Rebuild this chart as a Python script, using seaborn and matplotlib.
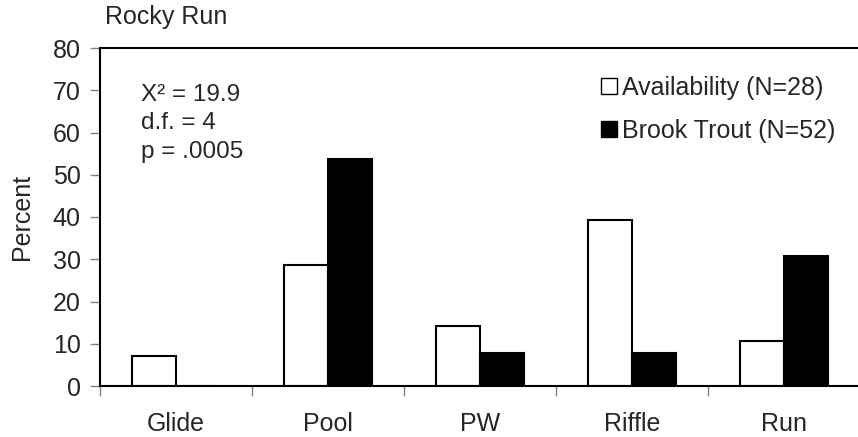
import matplotlib
matplotlib.use("Agg")
import matplotlib.pyplot as plt
from matplotlib.patches import Patch
import seaborn as sns
import pandas as pd

habitats = ["Glide", "Pool", "PW", "Riffle", "Run"]
availability = [7.1, 28.6, 14.3, 39.3, 10.7]
brook_trout = [0.0, 53.8, 7.7, 7.7, 30.8]
series_names = ["Availability (N=28)", "Brook Trout (N=52)"]

df = pd.DataFrame({
    "habitat": habitats * 2,
    "percent": availability + brook_trout,
    "series": [series_names[0]] * 5 + [series_names[1]] * 5,
})

sns.set_style("white")
plt.rcParams["font.family"] = ["Liberation Sans", "DejaVu Sans"]

fig = plt.figure(figsize=(8.58, 4.37), dpi=100)
ax = fig.add_axes([100 / 858, 51 / 437, 760 / 858, 338 / 437])

sns.barplot(data=df, x="habitat", y="percent", hue="series", order=habitats,
            hue_order=series_names, palette=["white", "black"], width=0.58,
            edgecolor="black", linewidth=1.5, ax=ax, legend=False)

ax.set_xlim(-0.5, 4.5)
ax.set_ylim(0, 80)
ax.set_yticks(range(0, 81, 10))
ax.set_xticks([i - 0.5 for i in range(6)], minor=False)
ax.set_xticklabels([])
ax.set_xticks(range(5), minor=True)
ax.set_xticklabels(habitats, minor=True)
ax.tick_params(axis="x", which="major", length=7, width=1, color="#808080",
               direction="out", bottom=True)
ax.tick_params(axis="x", which="minor", length=0, pad=19, labelsize=18)
ax.tick_params(axis="y", length=7, width=1, color="#808080", direction="out",
               left=True, labelsize=18, pad=7)

for s in ["left", "bottom", "top"]:
    ax.spines[s].set_color("black")
    ax.spines[s].set_linewidth(1.5)
ax.spines["right"].set_visible(False)

ax.set_xlabel("")
ax.set_ylabel("Percent", fontsize=18, labelpad=13)

fig.text(105 / 858, 1 - 17 / 437, "Rocky Run", fontsize=18, va="center", ha="left")

fig.text(141 / 858, 1 - 84 / 437, "X\u00b2 = 19.9\nd.f. = 4\np = .0005", fontsize=17.5,
         va="top", ha="left", linespacing=1.38)

handles = [Patch(facecolor="white", edgecolor="black", linewidth=1),
           Patch(facecolor="black", edgecolor="black", linewidth=1)]
leg = fig.legend(handles, series_names, loc="upper left",
                 bbox_to_anchor=(601 / 858, 1 - 76 / 437), frameon=False,
                 fontsize=18, handlelength=0.64, handleheight=0.64,
                 handletextpad=0.2, labelspacing=0.75, borderaxespad=0,
                 borderpad=0)

fig.savefig("out.png", dpi=100)
